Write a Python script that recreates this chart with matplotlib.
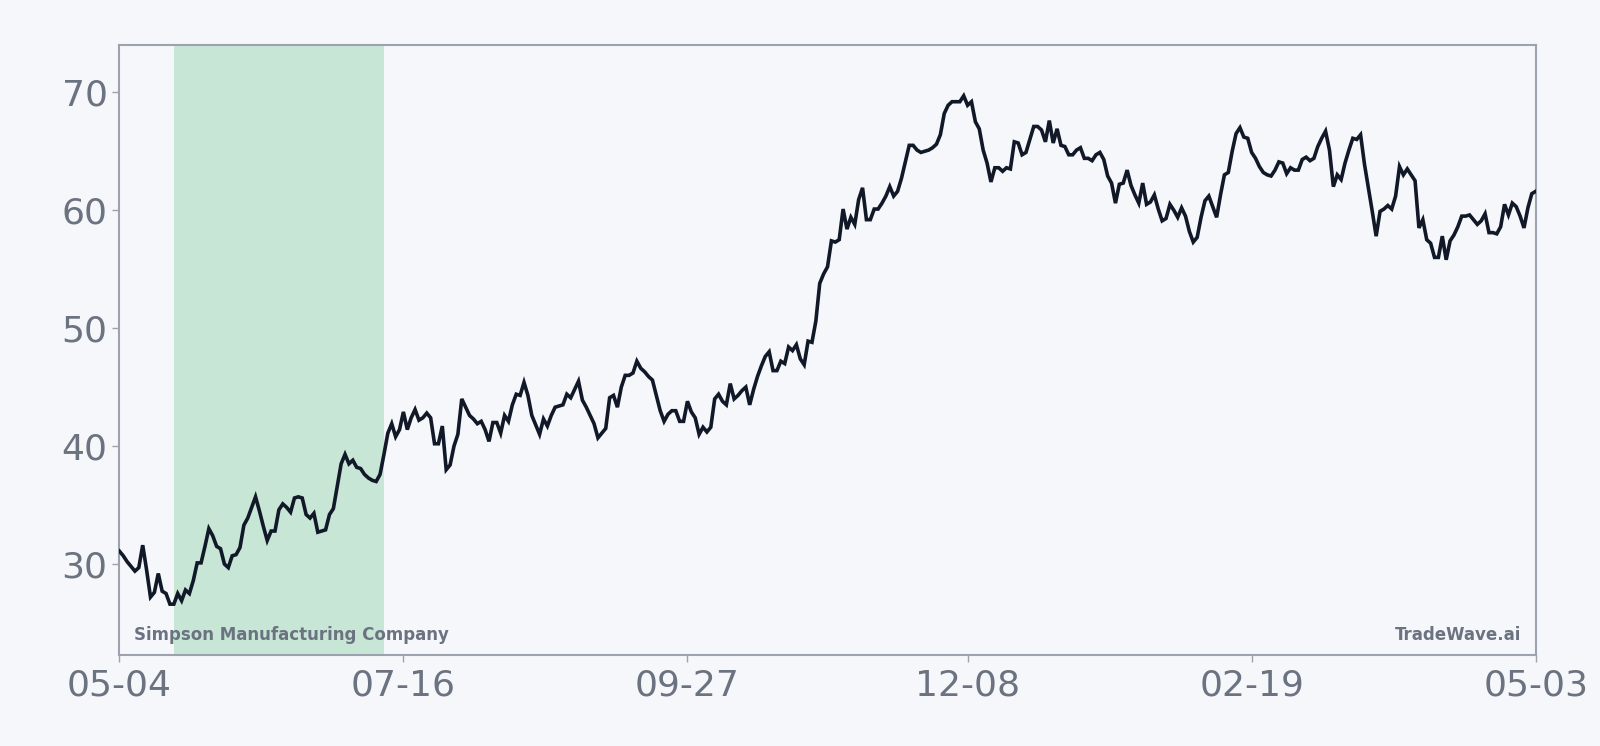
"""Price line for Simpson Manufacturing Company over one year, with a shaded window."""

import numpy as np
import pandas as pd
import matplotlib
matplotlib.use("Agg")
import matplotlib.pyplot as plt
import matplotlib.dates as mdates

# =============================================================================
# DATA
# =============================================================================
start_date = "2022-05-04"
end_date = "2023-05-03"

# daily closing prices (365 days)
prices = [
    31.1, 30.7, 30.2, 29.8, 29.4, 29.7, 31.6, 29.5, 27.2, 27.6,
    29.2, 27.7, 27.5, 26.6, 26.6, 27.5, 26.9, 27.8, 27.5, 28.6,
    30.1, 30.1, 31.5, 33.0, 32.4, 31.5, 31.3, 30.0, 29.7, 30.7,
    30.8, 31.4, 33.3, 33.9, 34.8, 35.7, 34.5, 33.2, 32.0, 32.8,
    32.8, 34.6, 35.1, 34.8, 34.4, 35.6, 35.7, 35.6, 34.2, 33.9,
    34.3, 32.7, 32.8, 32.9, 34.2, 34.7, 36.6, 38.5, 39.3, 38.5,
    38.8, 38.2, 38.1, 37.6, 37.3, 37.1, 37.0, 37.6, 39.3, 41.1,
    41.9, 40.8, 41.4, 42.9, 41.4, 42.4, 43.1, 42.2, 42.4, 42.8,
    42.4, 40.2, 40.2, 41.7, 38.0, 38.4, 40.0, 41.0, 44.0, 43.3,
    42.6, 42.3, 41.9, 42.1, 41.4, 40.4, 42.0, 42.0, 41.1, 42.6,
    42.1, 43.5, 44.4, 44.3, 45.4, 44.3, 42.6, 41.8, 41.0, 42.3,
    41.7, 42.6, 43.3, 43.4, 43.5, 44.4, 44.1, 44.8, 45.5, 43.9,
    43.3, 42.6, 41.9, 40.7, 41.1, 41.5, 44.1, 44.3, 43.3, 45.0,
    46.0, 46.0, 46.2, 47.2, 46.6, 46.3, 45.9, 45.6, 44.3, 43.0,
    42.1, 42.7, 43.0, 43.0, 42.1, 42.1, 43.8, 42.9, 42.4, 41.0,
    41.6, 41.2, 41.6, 44.0, 44.4, 43.8, 43.5, 45.3, 44.0, 44.3,
    44.7, 45.0, 43.5, 44.8, 45.9, 46.8, 47.6, 48.0, 46.4, 46.4,
    47.2, 47.0, 48.4, 48.1, 48.6, 47.4, 46.9, 48.9, 48.8, 50.6,
    53.8, 54.6, 55.2, 57.4, 57.3, 57.5, 60.1, 58.4, 59.4, 58.8,
    60.9, 61.9, 59.2, 59.2, 60.1, 60.1, 60.6, 61.2, 62.0, 61.2,
    61.6, 62.7, 64.1, 65.5, 65.5, 65.1, 64.9, 65.0, 65.1, 65.3,
    65.6, 66.4, 68.2, 68.9, 69.2, 69.2, 69.2, 69.7, 68.9, 69.2,
    67.5, 66.9, 65.1, 64.0, 62.4, 63.6, 63.6, 63.3, 63.6, 63.5,
    65.8, 65.7, 64.7, 64.9, 66.0, 67.1, 67.1, 66.8, 65.8, 67.6,
    65.7, 66.9, 65.5, 65.4, 64.7, 64.7, 65.1, 65.3, 64.4, 64.4,
    64.2, 64.7, 64.9, 64.3, 62.9, 62.3, 60.6, 62.2, 62.3, 63.4,
    62.1, 61.3, 60.6, 62.3, 60.5, 60.7, 61.3, 60.1, 59.1, 59.3,
    60.5, 60.0, 59.4, 60.2, 59.5, 58.2, 57.3, 57.7, 59.4, 60.8,
    61.2, 60.3, 59.4, 61.3, 63.0, 63.2, 65.0, 66.5, 67.0, 66.2,
    66.1, 64.9, 64.4, 63.7, 63.2, 63.0, 62.9, 63.4, 64.1, 64.0,
    63.1, 63.6, 63.4, 63.4, 64.3, 64.5, 64.2, 64.4, 65.4, 66.1,
    66.7, 65.1, 62.0, 63.0, 62.6, 64.0, 65.1, 66.1, 66.0, 66.4,
    63.9, 61.9, 59.9, 57.8, 59.9, 60.1, 60.4, 60.1, 61.2, 63.7,
    63.0, 63.5, 63.0, 62.5, 58.5, 59.2, 57.5, 57.2, 56.0, 56.0,
    57.8, 55.8, 57.4, 57.9, 58.6, 59.5, 59.5, 59.6, 59.2, 58.8,
    59.1, 59.7, 58.1, 58.1, 58.0, 58.6, 60.5, 59.6, 60.6, 60.3,
    59.5, 58.5, 60.2, 61.4, 61.6,
]

highlight_start = "2022-05-18"
highlight_end = "2022-07-11"

tick_dates = ["2022-05-04", "2022-07-16", "2022-09-27",
              "2022-12-08", "2023-02-19", "2023-05-03"]

company = "Simpson Manufacturing Company"
brand = "TradeWave.ai"

# =============================================================================
# PLOT
# =============================================================================
bg = "#f5f7fa"
line_color = "#111827"
spine_color = "#9ca3af"
text_color = "#6b7280"

dates = pd.date_range(start_date, end_date, freq="D")
values = np.array(prices)

fig = plt.figure(figsize=(16, 7.46), dpi=100, facecolor=bg)
ax = fig.add_axes([0.0746, 0.122, 0.8852, 0.8177])
ax.set_facecolor(bg)

ax.axvspan(pd.Timestamp(highlight_start), pd.Timestamp(highlight_end),
           color="#16a34a", alpha=0.2, lw=0, zorder=1)
ax.plot(dates, values, color=line_color, lw=2.6, zorder=3,
        solid_joinstyle="miter")

span = values.max() - values.min()
ax.set_ylim(values.min() - 0.1 * span, values.max() + 0.1 * span)
ax.set_xlim(dates[0], dates[-1])

ticks = pd.to_datetime(tick_dates)
ax.set_xticks(ticks)
ax.xaxis.set_major_formatter(mdates.DateFormatter("%m-%d"))
ax.set_yticks([30, 40, 50, 60, 70])

for s in ax.spines.values():
    s.set_color(spine_color)
    s.set_linewidth(1.5)
ax.tick_params(axis="both", colors=spine_color, labelcolor=text_color,
               labelsize=26, length=5, width=1)
ax.tick_params(axis="x", pad=5)

ax.text(0.010, 0.018, company, transform=ax.transAxes, fontsize=12,
        fontweight="bold", color=text_color, ha="left", va="bottom")
ax.text(0.990, 0.018, brand, transform=ax.transAxes, fontsize=12,
        fontweight="bold", color=text_color, ha="right", va="bottom")

fig.savefig("out.png", dpi=100, facecolor=bg)
